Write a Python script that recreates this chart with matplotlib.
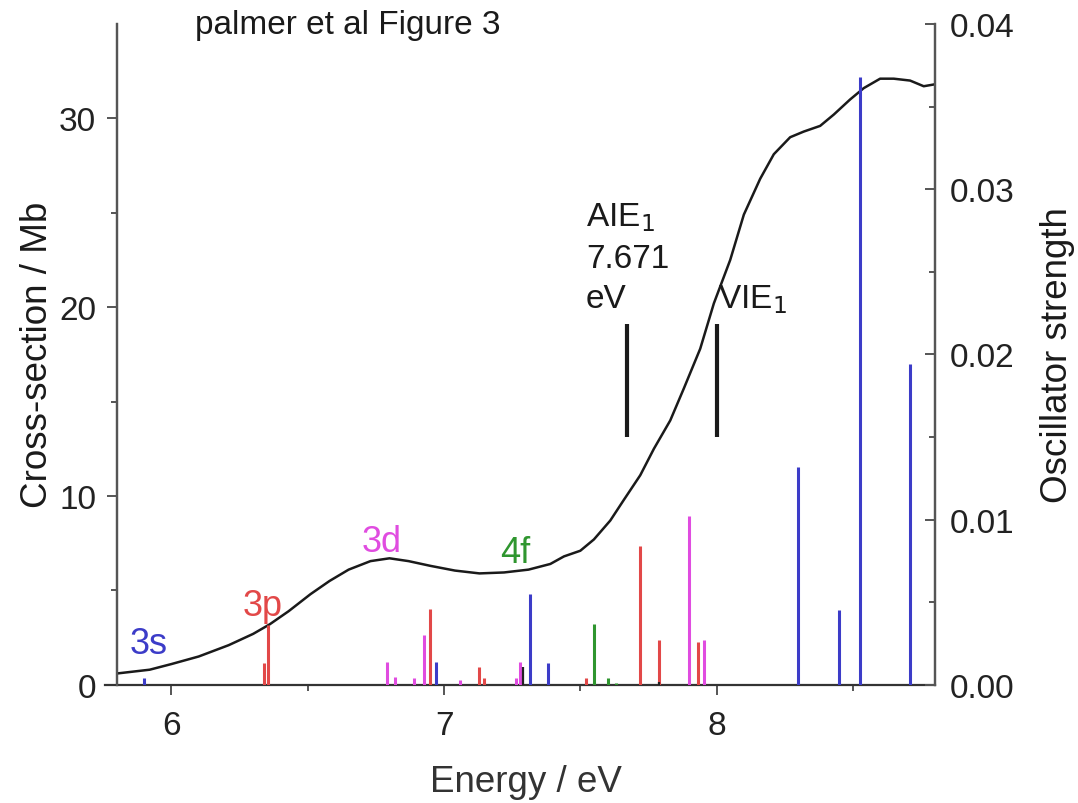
import matplotlib
matplotlib.use("Agg")
import matplotlib.pyplot as plt

plt.rcParams['font.family'] = ['Liberation Sans', 'DejaVu Sans']

# measured cross-section (Mb) vs energy (eV)
energy = [5.80, 5.92, 6.00, 6.10, 6.21, 6.30, 6.36, 6.43, 6.51, 6.58, 6.65, 6.73,
          6.80, 6.87, 6.95, 7.04, 7.13, 7.22, 7.31, 7.39, 7.44, 7.50, 7.55, 7.61,
          7.66, 7.72, 7.77, 7.83, 7.88, 7.94, 7.99, 8.05, 8.10, 8.16, 8.21, 8.27,
          8.32, 8.38, 8.43, 8.49, 8.54, 8.60, 8.65, 8.71, 8.76, 8.80]
cross_section = [0.6, 0.8, 1.1, 1.5, 2.1, 2.7, 3.2, 3.9, 4.8, 5.5, 6.1, 6.55,
                 6.7, 6.55, 6.3, 6.05, 5.9, 5.95, 6.1, 6.4, 6.8, 7.1, 7.7, 8.7,
                 9.8, 11.1, 12.5, 14.0, 15.7, 17.8, 20.2, 22.5, 24.9, 26.8, 28.1, 29.0,
                 29.3, 29.6, 30.2, 31.0, 31.6, 32.1, 32.1, 32.0, 31.7, 31.8]

# calculated oscillator strengths, grouped by series colour
s_energy = [5.90, 6.97, 7.317, 7.38, 8.30, 8.45, 8.527, 8.71]
s_strength = [0.0004, 0.0014, 0.0055, 0.0013, 0.0132, 0.0045, 0.0368, 0.0194]

p_energy = [6.34, 6.355, 6.95, 7.13, 7.145, 7.52, 7.72, 7.79, 7.93]
p_strength = [0.0013, 0.0036, 0.0046, 0.0011, 0.0004, 0.0004, 0.0084, 0.0027, 0.0026]

d_energy = [6.79, 6.82, 6.89, 6.925, 7.06, 7.265, 7.28, 7.90, 7.955]
d_strength = [0.0014, 0.0005, 0.0004, 0.0030, 0.0003, 0.0004, 0.0014, 0.0102, 0.0027]

f_energy = [7.55, 7.60, 7.63]
f_strength = [0.0037, 0.0004, 0.0001]

k_energy = [7.29, 7.79]
k_strength = [0.0011, 0.0002]

ion_energy = [7.671, 8.0]
ion_labels = ["AIE$_1$\n7.671\neV", "VIE$_1$"]

fig = plt.figure(figsize=(10.78, 8.04), dpi=100)
ax = fig.add_axes([0.1085, 0.147, 0.7585, 0.822])
ax2 = ax.twinx()

ax.plot(energy, cross_section, color='#1a1a1a', lw=1.8, zorder=3)

blue, red, mag, green = '#3c3cc8', '#e24848', '#e04ce0', '#2f962f'
ax2.vlines(s_energy, 0, s_strength, colors=blue, lw=2.2)
ax2.vlines(p_energy, 0, p_strength, colors=red, lw=2.2)
ax2.vlines(d_energy, 0, d_strength, colors=mag, lw=2.2)
ax2.vlines(f_energy, 0, f_strength, colors=green, lw=2.2)
ax2.vlines(k_energy, 0, k_strength, colors='#222222', lw=1.6)

# ionisation energy markers
ax.vlines(ion_energy, 13.1, 19.1, colors='#1a1a1a', lw=3.0)
ax.text(7.52, 20.0, ion_labels[0], fontsize=24, color='#1a1a1a',
        va='baseline', ha='left', linespacing=1.4)
ax.text(8.004, 20.0, ion_labels[1], fontsize=24, color='#1a1a1a',
        va='baseline', ha='left')

# series labels
ax.text(5.915, 1.7, "3s", color=blue, fontsize=26, ha='center')
ax.text(6.334, 3.7, "3p", color=red, fontsize=26, ha='center')
ax.text(6.77, 7.1, "3d", color=mag, fontsize=26, ha='center')
ax.text(7.26, 6.5, "4f", color=green, fontsize=26, ha='center')

ax.set_xlim(5.8, 8.8)
ax.set_ylim(0, 35)
ax2.set_ylim(0, 0.04)

ax.set_xticks([6, 7, 8])
ax.set_xticks([6.5, 7.5, 8.5], minor=True)
ax.set_yticks([0, 10, 20, 30])
ax.set_yticks([5, 15, 25], minor=True)
ax2.set_yticks([0, 0.01, 0.02, 0.03, 0.04])
ax2.set_yticks([0.005, 0.015, 0.025, 0.035], minor=True)
ax2.set_yticklabels(['0.00', '0.01', '0.02', '0.03', '0.04'])

spine_c = '#555555'
for a in (ax, ax2):
    a.spines['top'].set_visible(False)
    for s in a.spines.values():
        s.set_color(spine_c)
        s.set_linewidth(1.6)
ax2.spines['bottom'].set_visible(False)
ax.spines['bottom'].set_color('#333333')
ax.spines['bottom'].set_bounds(5.755, 8.8)

ax.tick_params(axis='both', which='major', direction='out', length=7, width=1.4,
               color=spine_c, labelsize=24, labelcolor='#222222')
ax.tick_params(axis='y', which='major', pad=8)
ax.tick_params(axis='x', which='major', pad=11)
ax.tick_params(axis='both', which='minor', direction='out', length=4, width=1.4,
               color=spine_c)
ax2.tick_params(axis='y', which='major', direction='in', length=7, width=1.4,
                color=spine_c, labelsize=24, labelcolor='#222222', pad=11)
ax2.tick_params(axis='y', which='minor', direction='in', length=4, width=1.4,
                color=spine_c)

ax.set_xlabel("Energy / eV", fontsize=26.5, color='#333333', labelpad=17)
ax.set_ylabel("Cross-section / Mb", fontsize=26.5, color='#1a1a1a', labelpad=3)
ax2.set_ylabel("Oscillator strength", fontsize=26.5, color='#1a1a1a',
               rotation=90, labelpad=18)

fig.text(195 / 1078, 1 - 34 / 804, "palmer et al Figure 3", fontsize=24,
         color='#1a1a1a', va='baseline', ha='left')

fig.savefig("out.png", dpi=100)
